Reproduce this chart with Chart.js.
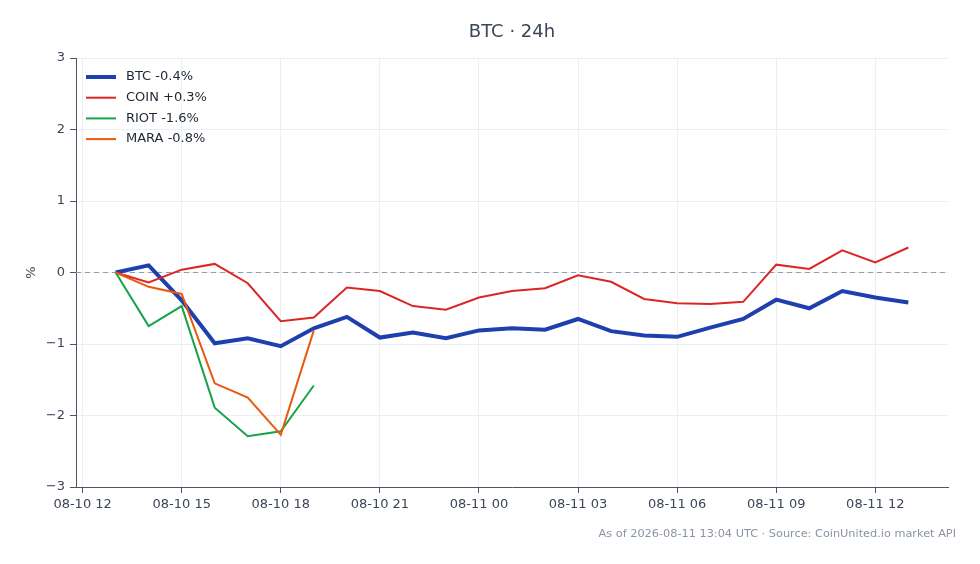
<!DOCTYPE html>
<html>
<head>
<meta charset="utf-8">
<script src="https://cdn.jsdelivr.net/npm/chart.js@4.4.1/dist/chart.umd.min.js"></script>
<style>
  html, body { margin: 0; padding: 0; background: #fff; }
  #wrap { width: 980px; height: 564px; position: relative; }
</style>
</head>
<body>
<div id="wrap"><canvas id="chart"></canvas></div>
<script>
// hours after 08-10 12:00 UTC
const hours = [1, 2, 3, 4, 5, 6, 7, 8, 9, 10, 11, 12, 13, 14, 15, 16, 17, 18, 19, 20, 21, 22, 23, 24, 25];
const btc  = [0, 0.10, -0.39, -0.99, -0.92, -1.03, -0.78, -0.62, -0.91, -0.84, -0.92, -0.81, -0.78, -0.80, -0.65, -0.82, -0.88, -0.90, -0.77, -0.65, -0.38, -0.50, -0.26, -0.35, -0.42];
const coin = [0, -0.14, 0.04, 0.12, -0.15, -0.68, -0.63, -0.21, -0.26, -0.47, -0.52, -0.35, -0.26, -0.22, -0.04, -0.13, -0.37, -0.43, -0.44, -0.41, 0.11, 0.05, 0.31, 0.14, 0.35];
const riot = [0, -0.75, -0.47, -1.89, -2.29, -2.22, -1.58];
const mara = [0, -0.20, -0.30, -1.55, -1.75, -2.27, -0.81];
const seriesNames = ['BTC -0.4%', 'COIN +0.3%', 'RIOT -1.6%', 'MARA -0.8%'];
const seriesColors = ['#1e40af', '#dc2626', '#16a34a', '#ea580c'];
const seriesWidths = [4, 2, 2, 2];
const xTicks = [0, 3, 6, 9, 12, 15, 18, 21, 24];
const yTicks = [-3, -2, -1, 0, 1, 2, 3];
const titleText = 'BTC \u00b7 24h';
const footerText = 'As of 2026-08-11 13:04 UTC \u00b7 Source: CoinUnited.io market API';

const FONT = "'DejaVu Sans', sans-serif";
const pts = (vals) => vals.map((v, i) => ({ x: hours[i], y: v }));
const hourLabel = (h) => {
  const t = 12 + h;
  const day = 10 + Math.floor(t / 24);
  const hr = t % 24;
  return '08-' + String(day).padStart(2, '0') + ' ' + String(hr).padStart(2, '0');
};

const extras = {
  id: 'extras',
  beforeDatasetsDraw(chart) {
    const { ctx, chartArea: a, scales: { y } } = chart;
    const py = y.getPixelForValue(0);
    ctx.save();
    ctx.strokeStyle = '#8d9bb3';
    ctx.lineWidth = 1.2;
    ctx.setLineDash([5, 4]);
    ctx.beginPath();
    ctx.moveTo(a.left, py);
    ctx.lineTo(a.right, py);
    ctx.stroke();
    ctx.restore();
  },
  afterDraw(chart) {
    const { ctx, chartArea: a } = chart;
    ctx.save();
    // title
    ctx.fillStyle = '#3b4657';
    ctx.font = '18px ' + FONT;
    ctx.textAlign = 'center';
    ctx.textBaseline = 'middle';
    ctx.fillText(titleText, (a.left + a.right) / 2, 32);
    // footer
    ctx.fillStyle = '#8a94a3';
    ctx.font = '11.3px ' + FONT;
    ctx.textAlign = 'right';
    ctx.fillText(footerText, 956, 534);
    // legend
    ctx.font = '13px ' + FONT;
    ctx.textAlign = 'left';
    chart.data.datasets.forEach((ds, i) => {
      const yy = a.top + 19 + i * 20.7;
      ctx.strokeStyle = ds.borderColor;
      ctx.lineWidth = ds.borderWidth;
      ctx.setLineDash([]);
      ctx.beginPath();
      ctx.moveTo(a.left + 10, yy);
      ctx.lineTo(a.left + 40, yy);
      ctx.stroke();
      ctx.fillStyle = '#1f2733';
      ctx.fillText(ds.label, a.left + 50, yy);
    });
    ctx.restore();
  }
};

const allSeries = [btc, coin, riot, mara];
new Chart(document.getElementById('chart'), {
  type: 'line',
  data: {
    datasets: allSeries.map((vals, i) => ({
      label: seriesNames[i],
      data: pts(vals),
      borderColor: seriesColors[i],
      backgroundColor: seriesColors[i],
      borderWidth: seriesWidths[i],
      pointRadius: 0,
      tension: 0,
      fill: false,
      order: allSeries.length - i
    }))
  },
  options: {
    responsive: true,
    maintainAspectRatio: false,
    animation: false,
    layout: { padding: { left: 0, right: 32, top: 58, bottom: 0 } },
    plugins: { legend: { display: false }, title: { display: false }, tooltip: { enabled: false } },
    scales: {
      x: {
        type: 'linear',
        min: -0.2,
        max: 26.2,
        afterBuildTicks: (s) => { s.ticks = xTicks.map(v => ({ value: v })); },
        afterFit: (s) => { s.height = 77; },
        ticks: { callback: (v) => hourLabel(v), color: '#3b4657', font: { family: FONT, size: 13 }, padding: 4, maxRotation: 0, autoSkip: false },
        grid: { color: '#eceef2', tickColor: '#4a5568', tickLength: 6 },
        border: { color: '#4a5568', width: 1 }
      },
      y: {
        min: -3,
        max: 3,
        afterBuildTicks: (s) => { s.ticks = yTicks.map(v => ({ value: v })); },
        afterFit: (s) => { s.width = 76; },
        ticks: { callback: (v) => (v < 0 ? '\u2212' + Math.abs(v) : String(v)), color: '#3b4657', font: { family: FONT, size: 13 }, padding: 5 },
        grid: { color: '#eceef2', tickColor: '#4a5568', tickLength: 6 },
        border: { color: '#4a5568', width: 1 },
        title: { display: true, text: '%', color: '#3b4657', font: { family: FONT, size: 13 }, padding: { top: 24, bottom: 0 } }
      }
    }
  },
  plugins: [extras]
});
</script>
</body>
</html>
